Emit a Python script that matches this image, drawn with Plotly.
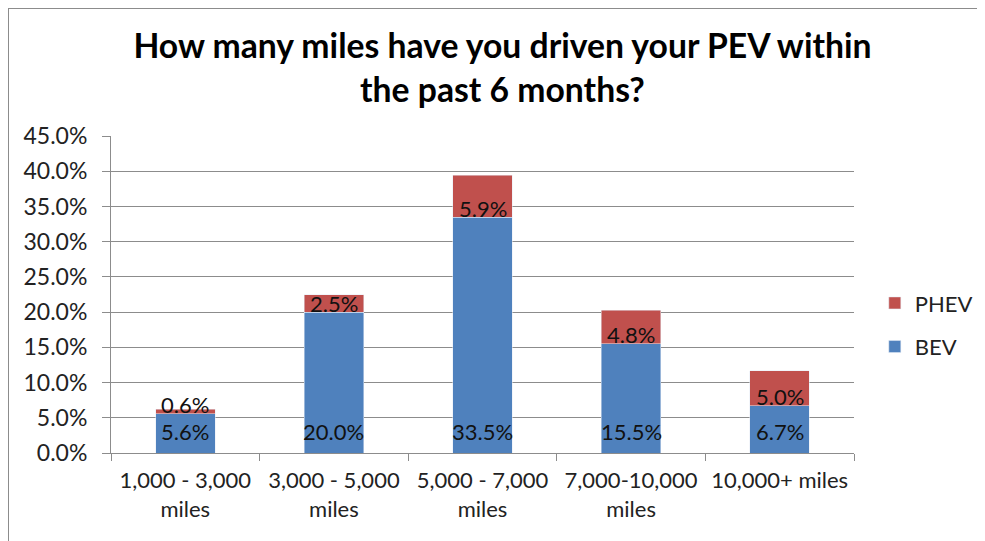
import plotly.graph_objects as go

categories = ["1,000 - 3,000<br>miles", "3,000 - 5,000<br>miles", "5,000 - 7,000<br>miles",
              "7,000-10,000<br>miles", "10,000+ miles"]
bev = [5.6, 20.0, 33.5, 15.5, 6.7]
phev = [0.6, 2.5, 5.9, 4.8, 5.0]
y_ticks = [0, 5, 10, 15, 20, 25, 30, 35, 40, 45]
y_tick_labels = [f"{v:.1f}%" for v in y_ticks]
title_text = "How many miles have you driven your PEV within<br>the past 6 months?"

FONT = "Lato"
BLUE = "#4F81BD"
RED = "#C0504D"

fig = go.Figure()
fig.add_trace(go.Bar(x=categories, y=bev, name="BEV", marker_color=BLUE,
                     legendgroup="bev", legendrank=2, width=0.4))
fig.add_trace(go.Bar(x=categories, y=phev, name="PHEV", marker_color=RED,
                     legendgroup="phev", legendrank=1, width=0.4))

annotations = []
for c, b in zip(categories, bev):
    annotations.append(dict(x=c, y=0, xref="x", yref="y", text=f"{b:.1f}%",
                            showarrow=False, yanchor="middle", yshift=22,
                            font=dict(family=FONT, size=22, color="#111111")))
for c, b, p in zip(categories, bev, phev):
    annotations.append(dict(x=c, y=b, xref="x", yref="y", text=f"{p:.1f}%",
                            showarrow=False, yanchor="middle", yshift=9,
                            font=dict(family=FONT, size=22, color="#111111")))

L, T, R, B = 103, 128, 139, 96
PW, PH = 985 - L - R, 541 - T - B

fig.update_layout(
    width=985, height=541,
    barmode="stack",
    paper_bgcolor="white", plot_bgcolor="white",
    margin=dict(l=L, r=R, t=T, b=B, autoexpand=False),
    title=dict(text=title_text, x=0.502, xanchor="center", y=0.908, yanchor="middle",
               font=dict(family=FONT, size=33.7, color="black", weight="bold")),
    font=dict(family=FONT, size=22, color="#222222"),
    xaxis=dict(showline=True, linecolor="#8c8c8c", linewidth=1, ticks="outside",
               tickson="boundaries", ticklen=7, tickcolor="#8c8c8c",
               ticklabelstandoff=8,
               showgrid=False, tickfont=dict(family=FONT, size=22, color="#222222")),
    yaxis=dict(range=[0, 45], tickvals=y_ticks, ticktext=y_tick_labels,
               showline=True, linecolor="#8c8c8c", linewidth=1, ticks="outside",
               ticklen=8, tickcolor="#8c8c8c", showgrid=True, gridcolor="#8c8c8c",
               gridwidth=1, zeroline=False, ticklabelstandoff=10,
               tickfont=dict(family=FONT, size=23, color="#222222")),
    legend=dict(x=1.028, y=0.539, xanchor="left", yanchor="top",
                traceorder="grouped", tracegroupgap=12,
                font=dict(family=FONT, size=22, color="#222222")),
    annotations=annotations,
    shapes=[dict(type="rect", xref="paper", yref="paper",
                 x0=-L / PW, x1=(985 - L + 10) / PW,
                 y0=-(B + 10) / PH, y1=(PH + T) / PH,
                 line=dict(color="#8c8c8c", width=2), fillcolor="rgba(0,0,0,0)",
                 layer="below")],
)

fig.write_html("out.html")
